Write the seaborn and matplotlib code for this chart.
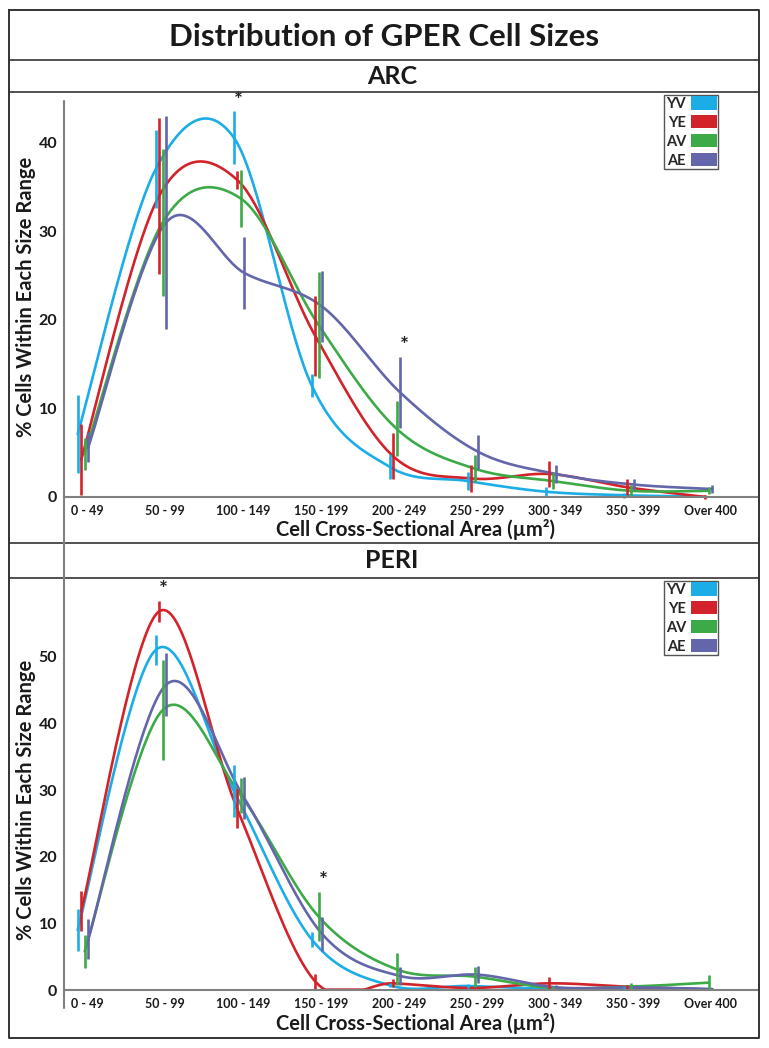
import numpy as np
import pandas as pd
import seaborn as sns
import matplotlib.pyplot as plt
from matplotlib.lines import Line2D
from matplotlib.patches import Patch

# categories / groups
sizes = ["0 - 49", "50 - 99", "100 - 149", "150 - 199", "200 - 249",
         "250 - 299", "300 - 349", "350 - 399", "Over 400"]
groups = ["YV", "YE", "AV", "AE"]
colors = ["#1CADE6", "#D2232A", "#3DAA48", "#6366AA"]

# ARC: mean % and error
arc_yv = [7.1, 37.0, 40.6, 12.6, 3.4, 1.8, 0.6, 0.2, 0.05]
arc_yv_err = [4.4, 4.4, 3.0, 1.3, 1.4, 1.0, 0.5, 0.3, 0.1]
arc_ye = [4.2, 34.0, 35.8, 18.2, 4.6, 2.1, 2.6, 1.1, 0.0]
arc_ye_err = [4.0, 8.8, 1.0, 4.5, 2.6, 1.5, 1.5, 0.9, 0.2]
arc_av = [4.9, 31.0, 33.7, 19.4, 7.7, 3.2, 1.8, 0.7, 0.7]
arc_av_err = [1.8, 8.3, 3.2, 6.0, 3.1, 1.5, 0.9, 0.6, 0.4]
arc_ae = [5.6, 31.0, 25.3, 21.5, 11.8, 5.1, 2.6, 1.4, 0.9]
arc_ae_err = [1.7, 12.0, 4.1, 4.0, 4.0, 1.9, 1.0, 0.6, 0.4]

# PERI: mean % and error
peri_yv = [9.0, 51.0, 29.9, 7.6, 0.7, 0.6, 0.2, 0.3, 0.1]
peri_yv_err = [3.1, 2.2, 3.9, 1.1, 0.3, 0.3, 0.15, 0.2, 0.1]
peri_ye = [11.8, 56.8, 27.2, 1.3, 1.0, 0.3, 1.0, 0.5, 0.1]
peri_ye_err = [3.0, 1.6, 2.9, 1.1, 0.6, 0.2, 0.9, 0.3, 0.1]
peri_av = [5.8, 42.0, 29.2, 11.0, 3.1, 2.0, 0.3, 0.5, 1.1]
peri_av_err = [2.5, 7.5, 2.6, 3.7, 2.4, 1.5, 0.3, 0.5, 1.1]
peri_ae = [7.6, 45.8, 28.8, 8.4, 2.1, 2.3, 0.4, 0.4, 0.15]
peri_ae_err = [3.0, 4.7, 3.1, 2.6, 1.35, 1.3, 0.3, 0.2, 0.15]

offsets = [-0.12, -0.075, -0.03, 0.015]

W, H = 769, 1048


def fx(x):
    return x / W


def fy(y):
    return 1 - y / H


def smooth(x, y, n=40):
    px = np.r_[x[0], x, x[-1]]
    py = np.r_[y[0], y, y[-1]]
    t = np.linspace(0, 1, n)[:, None]
    out = []
    for i in range(1, len(px) - 2):
        p0 = np.array([px[i], py[i]])
        p3 = np.array([px[i + 1], py[i + 1]])
        c1 = p0 + (p3 - np.array([px[i - 1], py[i - 1]])) / 6
        c2 = p3 - (np.array([px[i + 2], py[i + 2]]) - p0) / 6
        seg = ((1 - t) ** 3 * p0 + 3 * (1 - t) ** 2 * t * c1
               + 3 * (1 - t) * t ** 2 * c2 + t ** 3 * p3)
        out.append(seg if i == 1 else seg[1:])
    return np.vstack(out)


def draw_panel(ax, means, errs, ymax, yticks, stars, legend_top):
    rows = []
    for g, off, m in zip(groups, offsets, means):
        xs = np.arange(len(sizes)) + off
        pts = smooth(xs, np.array(m))
        for k, (a, b) in enumerate(pts):
            rows.append({"group": g, "x": a, "y": max(b, 0.05), "k": k})
    df = pd.DataFrame(rows)
    sns.lineplot(data=df, x="x", y="y", hue="group", palette=colors,
                 sort=False, estimator=None, legend=False, lw=1.9, ax=ax)
    for g, off, m, e, c in zip(groups, offsets, means, errs, colors):
        xs = np.arange(len(sizes)) + off
        ax.errorbar(xs, m, yerr=e, fmt="none", ecolor=c, elinewidth=1.9,
                    capsize=0, clip_on=False)
    for gi, ci, dy in stars:
        xs = ci + offsets[gi] + 0.06
        top = means[gi][ci] + errs[gi][ci]
        ax.text(xs, top + dy, "*", ha="center", va="bottom", fontsize=15,
                fontweight="bold", color="#222222")
    ax.set_xlim(-0.295, 8.59)
    ax.set_ylim(0, ymax)
    ax.set_xticks(range(len(sizes)))
    ax.set_xticklabels(sizes, fontsize=9, fontweight="bold", color="#1a1a1a")
    ax.set_yticks(yticks)
    ax.set_yticklabels([str(v) for v in yticks], fontsize=11.5,
                       fontweight="bold", color="#1a1a1a")
    ax.tick_params(axis="x", length=0, pad=6)
    ax.tick_params(axis="y", direction="inout", length=6, width=1.2,
                   color="#808080", pad=2)
    ax.set_xlabel("")
    ax.set_ylabel("")
    for s in ["top", "right", "left"]:
        ax.spines[s].set_visible(False)
    ax.spines["bottom"].set_color("#808080")
    ax.spines["bottom"].set_linewidth(1.5)
    handles = [Patch(facecolor=c, edgecolor="none") for c in colors]
    ax.legend(handles, groups, loc="upper right", markerfirst=False,
              bbox_to_anchor=(fx(718), fy(legend_top)),
              bbox_transform=ax.figure.transFigure,
              prop={"weight": "bold", "size": 10.5}, frameon=True,
              fancybox=False, framealpha=1, edgecolor="#555555",
              borderpad=0.1, labelspacing=0.3, handlelength=1.75,
              handleheight=1.0, handletextpad=0.35, borderaxespad=0)


sns.set_theme(style="white")
plt.rcParams["font.family"] = ["Lato", "DejaVu Sans"]

fig = plt.figure(figsize=(W / 100, H / 100), dpi=100)
ax1 = fig.add_axes([fx(64), fy(497), fx(757) - fx(64), (497 - 101) / H])
ax2 = fig.add_axes([fx(64), fy(990), fx(757) - fx(64), (990 - 578) / H])

draw_panel(ax1, [arc_yv, arc_ye, arc_av, arc_ae],
           [arc_yv_err, arc_ye_err, arc_av_err, arc_ae_err],
           44.7, [0, 10, 20, 30, 40], [(0, 2, 0.0), (3, 4, 0.1)], 95)
draw_panel(ax2, [peri_yv, peri_ye, peri_av, peri_ae],
           [peri_yv_err, peri_ye_err, peri_av_err, peri_ae_err],
           61.8, [0, 10, 20, 30, 40, 50], [(1, 1, 0.1), (2, 3, 0.1)], 581)

# frame and separators
box = "#333333"
for y in [60, 92, 543, 578]:
    fig.add_artist(Line2D([fx(9), fx(759)], [fy(y), fy(y)], color=box, lw=1.2))
fig.add_artist(Line2D([fx(9), fx(759), fx(759), fx(9), fx(9)],
                      [fy(10), fy(10), fy(1038), fy(1038), fy(10)],
                      color=box, lw=1.4))
fig.add_artist(Line2D([fx(64), fx(64)], [fy(101), fy(1008)],
                      color="#808080", lw=1.5))

fig.text(fx(384), fy(37), "Distribution of GPER Cell Sizes", ha="center",
         va="center", fontsize=22.5, fontweight="bold", color="#1a1a1a")
fig.text(fx(392), fy(77), "ARC", ha="center", va="center", fontsize=18,
         fontweight="bold", color="#1a1a1a")
fig.text(fx(392), fy(561), "PERI", ha="center", va="center", fontsize=18,
         fontweight="bold", color="#1a1a1a")
fig.text(fx(416), fy(529), "Cell Cross-Sectional Area (\u00b5m\u00b2)",
         ha="center", va="center", fontsize=14.5, fontweight="bold",
         color="#1a1a1a")
fig.text(fx(416), fy(1023), "Cell Cross-Sectional Area (\u00b5m\u00b2)",
         ha="center", va="center", fontsize=14.5, fontweight="bold",
         color="#1a1a1a")
fig.text(fx(26), fy(297), "% Cells Within Each Size Range", rotation=90,
         ha="center", va="center", fontsize=14.5, fontweight="bold",
         color="#1a1a1a")
fig.text(fx(26), fy(800), "% Cells Within Each Size Range", rotation=90,
         ha="center", va="center", fontsize=14.5, fontweight="bold",
         color="#1a1a1a")

fig.savefig("out.png", dpi=100, facecolor="white")
